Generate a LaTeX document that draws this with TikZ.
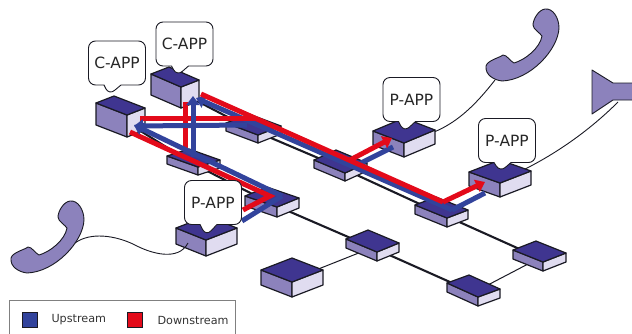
\documentclass[tikz,border=0pt]{standalone}
\usepackage{fontspec}
\setmainfont{DejaVu Sans}
\usepackage{xcolor}
\usepackage{tikz}
\usetikzlibrary{calc,arrows.meta,shapes.callouts}
\definecolor{boxtop}{RGB}{63, 53, 144}
\definecolor{boxleft}{RGB}{140, 130, 188}
\definecolor{boxright}{RGB}{224, 220, 240}
\definecolor{upblue}{RGB}{50, 67, 156}
\definecolor{downred}{RGB}{227, 10, 26}
\definecolor{edgedark}{RGB}{26, 26, 36}
\pgfdeclarelayer{wires}
\pgfsetlayers{wires,main}
\tikzset{
    bubble/.style={rectangle callout, draw=edgedark, fill=white, line width=0.9pt, rounded corners=7pt,
        callout pointer width=17pt, minimum width=57pt, minimum height=44pt, inner sep=0pt,
        font=\fontsize{15.5}{18}\selectfont, text=black!85},
    boxface/.style={draw=edgedark, line width=1.2pt, line join=round},
    trunk/.style={edgedark, line width=2.1pt},
    spur/.style={edgedark, line width=1pt},
    cord/.style={edgedark, line width=0.9pt},
    upflow/.style={upblue, line width=5pt},
    downflow/.style={downred, line width=5pt},
    flowtip/.style={-{Triangle[length=9pt,width=13pt]}},
    legendtext/.style={anchor=west, font=\fontsize{11.2}{13}\selectfont, text=black!80},
}
% name, left corner, front edge, back edge, depth
\newcommand{\netbox}[5]{
    \coordinate (L) at #2;
    \draw[boxface, fill=boxleft] (L) -- ++#3 -- ++(0,#5) -- ($(L)+(0,#5)$) -- cycle;
    \draw[boxface, fill=boxright] ($(L)+#3$) -- ++#4 -- ++(0,#5) -- ++($(0,0)-#4$) -- cycle;
    \draw[boxface, fill=boxtop] (L) -- ++#3 -- ++#4 -- ++($(0,0)-#3$) -- cycle;
    \coordinate (#1) at ($(L)+0.5*#3+0.5*#4+(0,0.5*#5+2)$);
}
\tikzset{
    handset/.pic={
        \draw[boxface, line width=0.9pt, fill=boxleft] (0,0) .. controls (2,-6) and (13,-8) .. (17,-11)
            .. controls (21,-11) and (24,-5) .. (28,-3) .. controls (39,-6) and (54,-18) .. (56,-30)
            .. controls (54,-33) and (47,-37) .. (47,-41) .. controls (47,-46) and (52,-56) .. (59,-57)
            .. controls (67,-58) and (73,-48) .. (73,-38) .. controls (72,-16) and (44,14) .. (16,15)
            .. controls (8,14) and (-1,9) .. (0,0) -- cycle;
    }
}

\begin{document}
\begin{tikzpicture}[x=1pt,y=-1pt]
    \useasboundingbox (0,0) rectangle (632,333);

    % Switches and hosts
    \netbox{capa}{(96,103)}{(31,12)}{(18,-7)}{22}
    \netbox{capb}{(151,74)}{(30,13)}{(18,-7)}{21}
    \netbox{swa}{(226,123)}{(32,12)}{(23,-9)}{8}
    \netbox{swb}{(167,156)}{(31,11)}{(22,-7)}{8}
    \netbox{swc}{(245,196)}{(32,11)}{(22,-9)}{10}
    \netbox{swd}{(314,160)}{(31,13)}{(22,-10)}{8}
    \netbox{swe}{(415,205)}{(32,13)}{(21,-8)}{9}
    \netbox{swf}{(346,239)}{(31,13)}{(22,-9)}{9}
    \netbox{swg}{(447,283)}{(31,14)}{(22,-8)}{9}
    \netbox{swh}{(513,250)}{(30,12)}{(23,-9)}{9}
    \netbox{papb}{(176,228)}{(30,12)}{(31,-12)}{16}
    \netbox{papc}{(373,131)}{(31,12)}{(31,-13)}{14}
    \netbox{papd}{(469,172)}{(31,11)}{(31,-12)}{14}
    \netbox{bigbox}{(261,270)}{(31,12)}{(31,-12)}{15}

    % Phones and speaker
    \pic at (486,66) {handset};
    \pic at (11,258) {handset};
    \draw[boxface, line width=0.9pt, fill=boxleft] (592,70) -- (613,83) -- (634,83) -- (634,100) -- (613,100) -- (592,114) -- cycle;
    \coordinate (phonea) at (495,80);
    \coordinate (speaker) at (618,102);
    \coordinate (phoneb) at (75,243);
    \coordinate (jack) at (188,243);

    % Links
    \begin{pgfonlayer}{wires}
        \draw[trunk] (capb) -- (swa) -- (swd) -- (swe) -- (swh);
        \draw[trunk] (capa) -- (swb) -- (swc) -- (swf) -- (swg);
        \draw[spur] (bigbox) -- (swf);
        \draw[spur] (swg) -- (swh);
        \draw[cord] (phonea) .. controls (470,112) and (445,135) .. (papc);
        \draw[cord] (speaker) .. controls (590,130) and (550,160) .. (papd);
    \end{pgfonlayer}
    \draw[cord] (phoneb) .. controls (90,232) and (115,235) .. (135,245) .. controls (150,253) and (178,262) .. (jack);

    % Upstream
    \coordinate (ua) at (452,210);
    \coordinate (ub) at (353,167);
    \coordinate (uc) at (282,196);
    \coordinate (ud) at (247,125);
    \coordinate (ue) at (193,157);
    \draw[upflow, flowtip] (ua) -- (196,98);
    \draw[upflow] (485,193) -- (ua);
    \draw[upflow] (393,147) -- (ub);
    \draw[upflow] (242,221) -- (uc);

    % Downstream
    \coordinate (da) at (443,202);
    \coordinate (db) at (350,160);
    \coordinate (dc) at (270,196);
    \coordinate (dd) at (255,118);
    \coordinate (de) at (185,150);
    \draw[downflow] (201,94) -- (da);
    \draw[downflow, flowtip] (da) -- (485,182);
    \draw[downflow, flowtip] (db) -- (392,138);
    \draw[downflow, line join=miter] (130,132) -- (dc) -- (243,210);
    \draw[downflow] (dd) -- (140,118);
    \draw[downflow] (185,102) -- (de);

    % Upstream on top of the crossings
    \draw[upflow, flowtip] (uc) -- (134,125);
    \draw[upflow, flowtip] (ud) -- (134,126);
    \draw[upflow, flowtip] (ue) -- (193,96);

    % Callouts
    \node[bubble, callout absolute pointer={(109,95)}] (capatext) at (117,63) {C-APP};
    \node[bubble, callout absolute pointer={(177,76)}] (capbtext) at (184.5,44) {C-APP};
    \node[bubble, callout absolute pointer={(206,236)}] (papbtext) at (213,202.5) {P-APP};
    \node[bubble, callout absolute pointer={(404,132)}] (papctext) at (411.5,99.5) {P-APP};
    \node[bubble, callout absolute pointer={(500,172)}] (papdtext) at (507,140.5) {P-APP};

    % Legend
    \draw[gray, line width=0.7pt] (9,336) -- (9,300) -- (235,300) -- (235,336);
    \draw[edgedark, line width=0.9pt, fill=upblue] (22,312) rectangle (37,327);
    \draw[edgedark, line width=0.9pt, fill=downred] (127,312) rectangle (142,327);
    \node[legendtext] (uplabel) at (48,320) {Upstream};
    \node[legendtext] (downlabel) at (154,320) {Downstream};
\end{tikzpicture}
\end{document}
